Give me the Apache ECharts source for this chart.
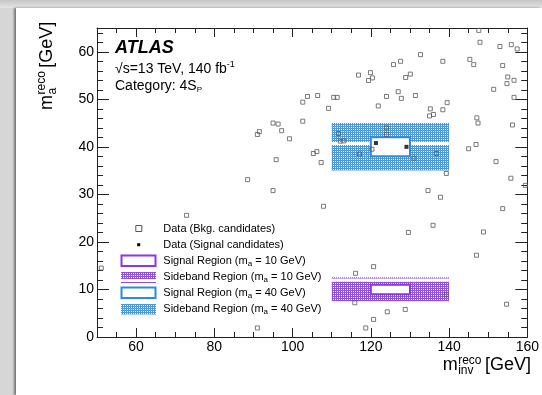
<!DOCTYPE html>
<html>
<head>
<meta charset="utf-8">
<script src="https://cdn.jsdelivr.net/npm/echarts@6/dist/echarts.min.js"></script>
<style>
  html, body { margin: 0; padding: 0; width: 542px; height: 395px; overflow: hidden; background: #d6d6d6; }
  #topband { position: absolute; left: 0; top: 0; width: 542px; height: 8px; background: linear-gradient(#c6c6c6, #e4e4e4); }
  #panel { position: absolute; left: 16px; top: 8px; width: 526px; height: 387px; background: #fff; box-shadow: -2px 0 2px rgba(0,0,0,0.45); }
  #chart { position: absolute; left: 0; top: 0; width: 542px; height: 395px; }
</style>
</head>
<body>
<div id="topband"></div>
<div id="panel"></div>
<div id="chart"></div>
<script>
// Axis ranges and tick labels
const xRange = [50, 160];
const yRange = [0, 65];
const xMajorTicks = [60, 80, 100, 120, 140, 160];
const yMajorTicks = [0, 10, 20, 30, 40, 50, 60];

// Background candidates: reconstructed m_inv and m_a (GeV)
const bkgMinv = [116.85,119.9,120.4,119.4,103.8,106.4,102.6,110.5,111.4,109.2,124.0,121.9,95.0,96.3,97.2,102.6,91.5,91.0,99.2,95.8,
  106.2,105.3,107.3,88.5,111.7,112.2,113.1,117.1,120.3,124.0,124.0,135.2,138.4,139.5,135.0,136.0,147.1,147.4,156.2,131.0,
  136.7,145.0,146.9,152.0,139.3,155.8,159.5,134.6,137.8,107.9,153.7,135.9,129.6,148.8,147.6,147.9,153.0,155.9,157.4,132.7,
  125.8,127.6,138.4,145.3,146.3,153.7,128.9,130.1,155.0,156.6,154.8,127.0,127.8,131.4,151.4,156.6,95.0,72.9,51.1,91.0,
  116.1,120.7,115.9,120.7,118.7,124.2,128.8,147.0,154.7,139.3];
const bkgMa = [55.1,55.6,54.5,53.95,50.6,50.8,49.4,50.4,50.4,48.1,50.6,48.6,45.0,44.8,43.4,45.4,43.2,42.6,41.7,37.3,
  39.0,38.6,36.7,33.1,42.8,41.2,41.25,38.5,39.5,44.0,42.6,48.0,47.8,49.3,46.5,46.8,46.1,45.0,44.6,37.6,
  38.6,39.6,40.5,36.9,34.4,33.4,31.9,30.8,29.4,27.5,27.0,23.5,22.0,22.1,64.5,62.0,61.1,61.5,60.6,59.4,
  57.3,58.0,58.0,58.4,57.3,57.1,54.6,55.3,54.7,54.0,53.3,51.6,50.2,50.8,52.1,50.4,30.8,25.6,14.5,1.9,
  13.4,14.8,7.2,3.7,1.9,5.3,5.8,17.2,6.9,8.9];

// Signal candidates
const sigMinv = [121.3, 129.1];
const sigMa = [40.8, 40.0];

// Regions as [m_inv low, m_inv high, m_a low, m_a high]
const sideband40 = [[110, 140, 35, 40.4], [110, 140, 41, 45]];
const signal40 = [[120, 130, 38, 42]];
const sideband10 = [[110, 140, 7.5, 11.6], [110, 140, 12.3, 12.55]];
const signal10 = [[120, 130, 9, 11]];

const FONT = '"Liberation Sans", Arial, Helvetica, sans-serif';
const BLUE = '#2b8be0';
const PURPLE = '#8a35e6';

// Fine dotted hatch used for the sideband fills
function hatch(ink) {
  const c = document.createElement('canvas');
  c.width = 2; c.height = 2;
  const g = c.getContext('2d');
  g.fillStyle = ink; g.fillRect(0, 0, 2, 2);
  g.fillStyle = '#ffffff'; g.fillRect(1, 1, 1, 1);
  return { image: c, repeat: 'repeat' };
}
const blueHatch = hatch('#4c98d8');
const purpleHatch = hatch('#9050de');

function boxSeries(name, boxes, style) {
  return {
    type: 'custom', name, data: boxes, silent: true,
    xAxisIndex: 0, yAxisIndex: 0,
    renderItem(params, api) {
      const p0 = api.coord([api.value(0), api.value(3)]);
      const p1 = api.coord([api.value(1), api.value(2)]);
      return {
        type: 'rect',
        shape: { x: p0[0], y: p0[1], width: p1[0] - p0[0], height: p1[1] - p0[1] },
        style: Object.assign({}, style)
      };
    }
  };
}

// Text measuring so that sub/superscripts can be laid out piece by piece
const mctx = document.createElement('canvas').getContext('2d');
function textWidth(s, size, weight, style) {
  mctx.font = `${style || 'normal'} ${weight || 'normal'} ${size}px "Liberation Sans"`;
  return mctx.measureText(s).width;
}
function textRun(x, y, pieces) {
  const out = [];
  let cx = x;
  pieces.forEach(p => {
    out.push({
      type: 'text', x: cx, y: y + (p.dy || 0), silent: true,
      style: { text: p.t, fontSize: p.size, fontFamily: FONT, fontWeight: p.weight || 'normal',
               fontStyle: p.style || 'normal', fill: '#000', align: 'left', verticalAlign: 'middle' }
    });
    cx += textWidth(p.t, p.size, p.weight, p.style);
  });
  return out;
}
function txt(x, y, t, size, extra) {
  return Object.assign({ type: 'text', x, y, silent: true,
    style: Object.assign({ text: t, fontSize: size, fontFamily: FONT, fill: '#000', align: 'left', verticalAlign: 'middle' }, extra || {}) });
}

// Axis titles: m with stacked superscript "reco" and subscript label
function axisTitle(sub) {
  const big = 18, small = 12;
  const mW = textWidth('m', big);
  const stackW = Math.max(textWidth('reco', small), textWidth(sub, small));
  return [
    txt(0, 0, 'm', big),
    txt(mW + 0.5, -5, 'reco', small),
    txt(mW + 0.5, 5.5, sub, small),
    txt(mW + stackW + 4, 0, '[GeV]', big)
  ];
}

const graphics = [];
// x-axis title, right aligned to the frame
(function () {
  const parts = axisTitle('inv');
  const total = textWidth('m', 18) + Math.max(textWidth('reco', 12), textWidth('inv', 12)) + 4 + textWidth('[GeV]', 18);
  graphics.push({ type: 'group', x: 531 - total, y: 365.5, children: parts });
})();
// y-axis title, rotated
graphics.push({ type: 'group', x: 47, y: 110, rotation: Math.PI / 2, children: axisTitle('a') });

// ATLAS label block
graphics.push(...textRun(115, 48, [{ t: 'ATLAS', size: 18, weight: 'bold', style: 'italic' }]));
graphics.push(...textRun(115, 69.5, [{ t: '\u221As=13 TeV, 140 fb', size: 14 }, { t: '-1', size: 9, dy: -5 }]));
graphics.push(...textRun(115, 86, [{ t: 'Category: 4S', size: 14 }, { t: 'P', size: 8, dy: 4 }]));

// Legend
const legendX = 163.3;
const rows = [228.5, 244.5, 260.5, 276.5, 292.5, 308.5];
graphics.push({ type: 'rect', silent: true, shape: { x: 135.8, y: rows[0] - 3, width: 6, height: 6 },
  style: { fill: 'none', stroke: '#555', lineWidth: 1 } });
graphics.push({ type: 'rect', silent: true, shape: { x: 137.2, y: rows[1] - 1.3, width: 3, height: 3 },
  style: { fill: '#000' } });
graphics.push({ type: 'rect', silent: true, shape: { x: 121.5, y: rows[2] - 5, width: 34, height: 10.5 },
  style: { fill: '#fff', stroke: PURPLE, lineWidth: 2 } });
graphics.push({ type: 'rect', silent: true, shape: { x: 121, y: rows[3] - 4.5, width: 35, height: 7 },
  style: { fill: purpleHatch } });
graphics.push({ type: 'rect', silent: true, shape: { x: 121, y: rows[3] + 5.5, width: 35, height: 1 },
  style: { fill: purpleHatch } });
graphics.push({ type: 'rect', silent: true, shape: { x: 121.5, y: rows[4] - 5, width: 34, height: 10.5 },
  style: { fill: '#fff', stroke: BLUE, lineWidth: 2 } });
graphics.push({ type: 'rect', silent: true, shape: { x: 121, y: rows[5] - 4.5, width: 35, height: 10.5 },
  style: { fill: blueHatch } });

graphics.push(...textRun(legendX, rows[0], [{ t: 'Data (Bkg. candidates)', size: 11 }]));
graphics.push(...textRun(legendX, rows[1], [{ t: 'Data (Signal candidates)', size: 11 }]));
[['Signal Region (m', ' = 10 GeV)'], ['Sideband Region (m', ' = 10 GeV)'],
 ['Signal Region (m', ' = 40 GeV)'], ['Sideband Region (m', ' = 40 GeV)']].forEach((lab, i) => {
  graphics.push(...textRun(legendX, rows[i + 2], [{ t: lab[0], size: 11 }, { t: 'a', size: 8, dy: 3.5 }, { t: lab[1], size: 11 }]));
});

// Axes: labelled major ticks plus separate minor-tick axes, mirrored on top/right
const lineStyle = { color: '#222', width: 1 };
function xAxisDef(pos, major) {
  return {
    type: 'value', min: xRange[0], max: xRange[1], position: pos,
    interval: major ? undefined : 5,
    axisLine: { show: major, onZero: false, lineStyle },
    axisTick: major ? { show: true, inside: true, length: 9, customValues: xMajorTicks, lineStyle }
                    : { show: true, inside: true, length: 5, lineStyle },
    axisLabel: (major && pos === 'bottom')
      ? { show: true, customValues: xMajorTicks, margin: 3, fontSize: 14, color: '#000', fontFamily: FONT }
      : { show: false },
    splitLine: { show: false }
  };
}
function yAxisDef(pos, major) {
  return {
    type: 'value', min: yRange[0], max: yRange[1], position: pos,
    interval: major ? undefined : 2,
    axisLine: { show: major, onZero: false, lineStyle },
    axisTick: major ? { show: true, inside: true, length: 12, customValues: yMajorTicks, lineStyle }
                    : { show: true, inside: true, length: 6, lineStyle },
    axisLabel: (major && pos === 'left')
      ? { show: true, customValues: yMajorTicks, margin: 3, fontSize: 14, color: '#000', fontFamily: FONT }
      : { show: false },
    splitLine: { show: false }
  };
}

const chart = echarts.init(document.getElementById('chart'), null, { renderer: 'canvas' });
chart.setOption({
  backgroundColor: 'transparent',
  animation: false,
  grid: { left: 97, top: 28, right: 11, bottom: 58, containLabel: false },
  xAxis: [xAxisDef('bottom', true), xAxisDef('bottom', false), xAxisDef('top', true), xAxisDef('top', false)],
  yAxis: [yAxisDef('left', true), yAxisDef('left', false), yAxisDef('right', true), yAxisDef('right', false)],
  series: [
    boxSeries('Sideband Region (ma = 40 GeV)', sideband40, { fill: blueHatch }),
    boxSeries('Sideband Region (ma = 10 GeV)', sideband10, { fill: purpleHatch }),
    boxSeries('Signal Region (ma = 40 GeV)', signal40, { fill: '#fff', stroke: BLUE, lineWidth: 2 }),
    boxSeries('Signal Region (ma = 10 GeV)', signal10, { fill: '#fff', stroke: PURPLE, lineWidth: 2 }),
    {
      type: 'scatter', name: 'Data (Bkg. candidates)', silent: true,
      data: bkgMinv.map((v, i) => [v, bkgMa[i]]),
      symbol: 'rect', symbolSize: 4,
      itemStyle: { color: 'rgba(255,255,255,0)', borderColor: '#5a5a5a', borderWidth: 1 },
      emphasis: { disabled: true }
    },
    {
      type: 'scatter', name: 'Data (Signal candidates)', silent: true,
      data: sigMinv.map((v, i) => [v, sigMa[i]]),
      symbol: 'rect', symbolSize: 4,
      itemStyle: { color: '#000' },
      emphasis: { disabled: true }
    }
  ],
  graphic: graphics
});
</script>
</body>
</html>
